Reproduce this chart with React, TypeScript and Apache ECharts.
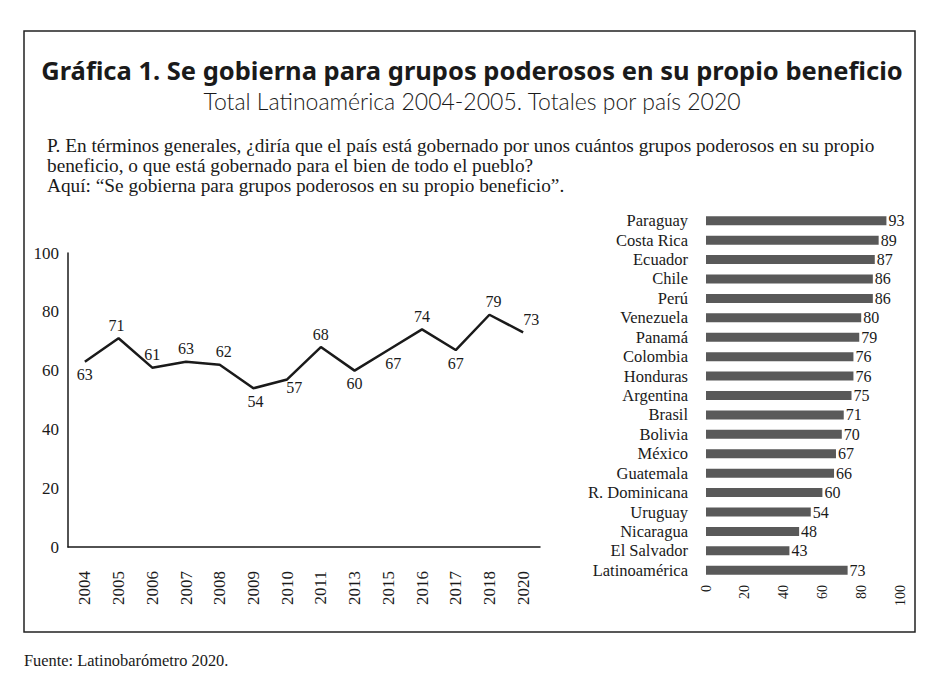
import React, { useEffect, useRef } from "react";
import * as echarts from "echarts";

const years = ["2004", "2005", "2006", "2007", "2008", "2009", "2010", "2011", "2013", "2015", "2016", "2017", "2018", "2020"];
const yearValues = [63, 71, 61, 63, 62, 54, 57, 68, 60, 67, 74, 67, 79, 73];

const countries = [
  "Paraguay", "Costa Rica", "Ecuador", "Chile", "Perú", "Venezuela", "Panamá", "Colombia", "Honduras",
  "Argentina", "Brasil", "Bolivia", "México", "Guatemala", "R. Dominicana", "Uruguay", "Nicaragua",
  "El Salvador", "Latinoamérica",
];
const countryValues = [93, 89, 87, 86, 86, 80, 79, 76, 76, 75, 71, 70, 67, 66, 60, 54, 48, 43, 73];

const titleText = "Gráfica 1. Se gobierna para grupos poderosos en su propio beneficio";
const subtitleText = "Total Latinoamérica 2004-2005. Totales por país 2020";
const questionLines = [
  "P. En términos generales, ¿diría que el país está gobernado por unos cuántos grupos poderosos en su propio",
  "beneficio, o que está gobernado para el bien de todo el pueblo?",
  "Aquí: “Se gobierna para grupos poderosos en su propio beneficio”.",
];
const sourceText = "Fuente: Latinobarómetro 2020.";

// label placement style for each point of the line
const labelPlacement: { position: string; offset: number[] }[] = [
  { position: "bottom", offset: [0, 0] },
  { position: "top", offset: [-2, 0] },
  { position: "top", offset: [0, 0] },
  { position: "top", offset: [0, 0] },
  { position: "top", offset: [4, 0] },
  { position: "bottom", offset: [2, 0] },
  { position: "bottom", offset: [7, -5] },
  { position: "top", offset: [0, 0] },
  { position: "bottom", offset: [0, 0] },
  { position: "bottom", offset: [5, 0] },
  { position: "top", offset: [0, 0] },
  { position: "bottom", offset: [0, 0] },
  { position: "top", offset: [4, 0] },
  { position: "top", offset: [8, 0] },
];

const SERIF = '"Liberation Serif", "DejaVu Serif", serif';
const INK = "#1a1a1a";

export default function App() {
  const ref = useRef<HTMLDivElement>(null);
  useEffect(() => {
    document.body.style.margin = "0";
    if (!ref.current) return;
    const chart = echarts.init(ref.current, null, { renderer: "svg" });
    chart.setOption({
      animation: false,
      backgroundColor: "#ffffff",
      textStyle: { fontFamily: SERIF, color: INK },
      graphic: [
        {
          type: "rect",
          shape: { x: 24, y: 31, width: 891, height: 601 },
          style: { fill: "none", stroke: "#222", lineWidth: 1.5 },
          z: 0,
        },
        {
          type: "text",
          x: 472,
          y: 70,
          style: {
            text: titleText,
            font: 'bold 25.5px "Noto Sans", sans-serif',
            fill: INK,
            textAlign: "center",
            textVerticalAlign: "middle",
          },
        },
        {
          type: "text",
          x: 472,
          y: 101,
          style: {
            text: subtitleText,
            font: '300 23px Lato, "Noto Sans", sans-serif',
            fill: INK,
            textAlign: "center",
            textVerticalAlign: "middle",
          },
        },
        ...questionLines.map((t, i) => ({
          type: "text",
          x: 47,
          y: 145 + i * 20,
          style: {
            text: t,
            font: "19.3px " + SERIF,
            fill: INK,
            textAlign: "left",
            textVerticalAlign: "middle",
          },
        })),
        {
          type: "text",
          x: 24,
          y: 660,
          style: {
            text: sourceText,
            font: "16.4px " + SERIF,
            fill: INK,
            textAlign: "left",
            textVerticalAlign: "middle",
          },
        },
      ],
      grid: [
        { left: 68, top: 253, width: 472, height: 294 },
        { left: 706, top: 211, width: 194, height: 369 },
      ],
      xAxis: [
        {
          type: "category",
          gridIndex: 0,
          data: years,
          boundaryGap: true,
          axisLine: { lineStyle: { color: INK, width: 1.5 } },
          axisTick: { show: false },
          axisLabel: { rotate: 90, margin: 24, fontSize: 17, fontFamily: SERIF, color: INK, interval: 0 },
        },
        {
          type: "value",
          gridIndex: 1,
          min: 0,
          max: 100,
          interval: 20,
          axisLine: { show: false },
          axisTick: { show: false },
          splitLine: { show: false },
          axisLabel: { rotate: 90, margin: 5, fontSize: 14, fontFamily: SERIF, color: INK },
        },
      ],
      yAxis: [
        {
          type: "value",
          gridIndex: 0,
          min: 0,
          max: 100,
          interval: 20,
          axisLine: { show: true, lineStyle: { color: INK, width: 1.5 } },
          axisTick: { show: false },
          splitLine: { show: false },
          axisLabel: { margin: 9, fontSize: 17, fontFamily: SERIF, color: INK },
        },
        {
          type: "category",
          gridIndex: 1,
          data: countries,
          inverse: true,
          axisLine: { show: false },
          axisTick: { show: false },
          axisLabel: { margin: 18, fontSize: 16.5, fontFamily: SERIF, color: INK, interval: 0 },
        },
      ],
      series: [
        {
          type: "line",
          xAxisIndex: 0,
          yAxisIndex: 0,
          data: yearValues.map((v, i) => ({
            value: v,
            label: { position: labelPlacement[i].position, offset: labelPlacement[i].offset },
          })),
          symbol: "circle",
          symbolSize: 2,
          showSymbol: true,
          itemStyle: { color: "rgba(0,0,0,0)", borderWidth: 0 },
          lineStyle: { color: INK, width: 2.5 },
          label: { show: true, fontSize: 16, fontFamily: SERIF, color: INK, distance: 4 },
        },
        {
          type: "bar",
          xAxisIndex: 1,
          yAxisIndex: 1,
          data: countryValues,
          barWidth: 9,
          itemStyle: { color: "#595959" },
          label: { show: true, position: "right", distance: 2, fontSize: 16, fontFamily: SERIF, color: INK },
        },
      ],
    });
    return () => chart.dispose();
  }, []);
  return <div ref={ref} style={{ width: 936, height: 687 }} />;
}
